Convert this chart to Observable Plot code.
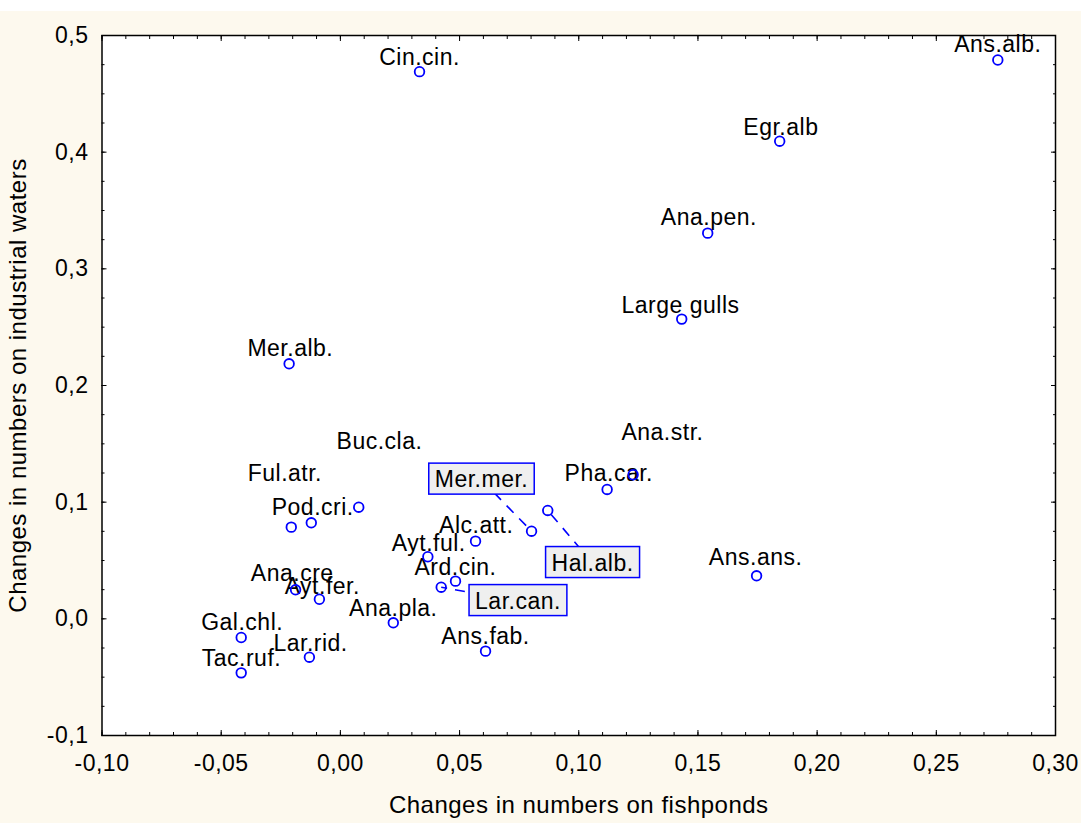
<!DOCTYPE html>
<html><head><meta charset="utf-8">
<script src="https://cdn.jsdelivr.net/npm/d3@7"></script>
<script src="https://cdn.jsdelivr.net/npm/@observablehq/plot@0.6"></script>
<style>
html,body{margin:0;padding:0;background:#ffffff;}
#chart{position:absolute;left:0;top:11px;width:1081px;height:812px;background:#fdf9ee;}
</style></head><body><div id="chart"></div>
<script>
// ---- data ----
const species = ["Ans.alb.","Cin.cin.","Egr.alb","Ana.pen.","Large gulls","Mer.alb.","Buc.cla.","Ful.atr.","Pod.cri.","Ana.str.","Pha.car.","Hal.alb.","Mer.mer.","Alc.att.","Ayt.ful.","Ard.cin.","Lar.can.","Ana.cre","Ayt.fer.","Ana.pla.","Ans.fab.","Gal.chl.","Tac.ruf.","Lar.rid.","Ans.ans."];
const fishponds = [0.2758,0.0332,0.1843,0.1541,0.1432,-0.0215,0.0077,-0.0206,-0.0122,0.1228,0.1119,0.0870,0.0802,0.0567,0.0367,0.0483,0.0423,-0.0188,-0.0088,0.0222,0.0609,-0.0416,-0.0416,-0.0130,0.1746];
const industrial = [0.479,0.469,0.4094,0.3306,0.2569,0.2186,0.0957,0.0786,0.0823,0.1235,0.1109,0.0929,0.0751,0.0666,0.0532,0.0323,0.0271,0.0249,0.0168,-0.0034,-0.0277,-0.016,-0.0463,-0.0329,0.0369];
// label anchor positions (data units), as placed in the original chart
const labelX = [0.2758,0.0332,0.1848,0.1546,0.1427,-0.0210,0.0164,-0.0233,-0.0116,0.1351,0.1126,0.1058,0.0592,0.0570,0.0371,0.0483,0.0745,-0.0202,-0.0076,0.0222,0.0609,-0.0412,-0.0415,-0.0125,0.1742];
const labelY = [0.4923,0.4811,0.4214,0.3443,0.2686,0.2315,0.1523,0.1248,0.0952,0.1597,0.1243,0.0477,0.1192,0.0800,0.0648,0.0443,0.0151,0.0386,0.0280,0.0086,-0.0151,-0.0029,-0.0343,-0.0209,0.0523];
const boxedLabels = ["Mer.mer.","Hal.alb.","Lar.can."];
const xTicks = [-0.10,-0.05,0.00,0.05,0.10,0.15,0.20,0.25,0.30];
const yTicks = [-0.1,0.0,0.1,0.2,0.3,0.4,0.5];
const xMinor = d3.range(-10, 31).map(i => i / 100);
const yMinor = d3.range(-4, 21).map(i => i * 0.025);

const rows = species.map((s, i) => ({s, x: fishponds[i], y: industrial[i], lx: labelX[i], ly: labelY[i], boxed: boxedLabels.includes(s)}));
const fmtX = d => d.toFixed(2).replace(".", ",");
const fmtY = d => d.toFixed(1).replace(".", ",");
const BLUE = "#0000ff";

const plot = Plot.plot({
  width: 1081, height: 812,
  marginLeft: 101.5, marginRight: 26, marginTop: 24, marginBottom: 88,
  style: {background: "transparent", fontFamily: "'Liberation Sans', Arial, sans-serif", fontSize: "23px", color: "#000", overflow: "visible"},
  x: {domain: [-0.1, 0.3]},
  y: {domain: [-0.1, 0.5]},
  marks: [
    Plot.frame({fill: "white", stroke: null}),
    Plot.axisX({anchor: "bottom", ticks: xMinor, tickSize: -3, text: null, label: null}),
    Plot.axisX({anchor: "top", ticks: xMinor, tickSize: -3, text: null, label: null}),
    Plot.axisX({anchor: "bottom", ticks: xTicks, tickSize: -5, text: null, label: null}),
    Plot.axisX({anchor: "top", ticks: xTicks, tickSize: -5, text: null, label: null}),
    Plot.axisY({anchor: "left", ticks: yMinor, tickSize: -3, text: null, label: null}),
    Plot.axisY({anchor: "right", ticks: yMinor, tickSize: -3, text: null, label: null}),
    Plot.axisY({anchor: "left", ticks: yTicks, tickSize: -5, text: null, label: null}),
    Plot.axisY({anchor: "right", ticks: yTicks, tickSize: -5, text: null, label: null}),
    Plot.axisX({anchor: "bottom", ticks: xTicks, tickSize: 0, tickPadding: 19, tickFormat: fmtX, label: null, fill: "black", fontSize: 23}),
    Plot.axisY({anchor: "left", ticks: yTicks, tickSize: 0, tickPadding: 13.5, tickFormat: fmtY, label: null, fill: "black", fontSize: 23}),
    Plot.text(["Changes in numbers on fishponds"], {frameAnchor: "bottom", textAnchor: "middle", dy: 77, fill: "black", fontSize: 24}),
    Plot.text(["Changes in numbers on industrial waters"], {frameAnchor: "left", textAnchor: "middle", dx: -83.5, rotate: -90, fill: "black", fontSize: 24}),
    Plot.link(rows.filter(d => d.boxed), {x1: "lx", y1: "ly", x2: "x", y2: "y", stroke: BLUE, strokeWidth: 1.6, strokeDasharray: "10,8"}),
    Plot.text(rows.filter(d => !d.boxed), {x: "lx", y: "ly", text: "s", fill: "black", fontSize: 23}),
    Plot.text(rows.filter(d => d.boxed), {x: "lx", y: "ly", text: "s", fill: "black", fontSize: 23, ariaLabel: "boxed labels"}),
    Plot.dot(rows, {x: "x", y: "y", r: 4.8, stroke: BLUE, strokeWidth: 1.8, fill: "none"}),
    Plot.frame({stroke: "black", strokeWidth: 1.5, fill: null})
  ]
});
document.getElementById("chart").append(plot);

// slight letter spacing to match the original's wider type
plot.querySelectorAll('text').forEach(t => t.style.letterSpacing = "0.5px");

// draw the boxes behind the boxed labels
let g = plot.querySelector('g[aria-label="boxed labels"]');
if (!g) { const gs = plot.querySelectorAll('g[aria-label="text"]'); g = gs[gs.length - 1]; }
g.querySelectorAll("text").forEach(t => {
  const b = t.getBBox();
  const r = document.createElementNS("http://www.w3.org/2000/svg", "rect");
  r.setAttribute("x", b.x - 6);
  r.setAttribute("y", b.y - 3);
  r.setAttribute("width", b.width + 12);
  r.setAttribute("height", b.height + 5);
  if (t.getAttribute("transform")) r.setAttribute("transform", t.getAttribute("transform"));
  r.setAttribute("fill", "#efefef");
  r.setAttribute("stroke", BLUE);
  r.setAttribute("stroke-width", "1.5");
  g.insertBefore(r, t);
});
</script>
</body></html>
